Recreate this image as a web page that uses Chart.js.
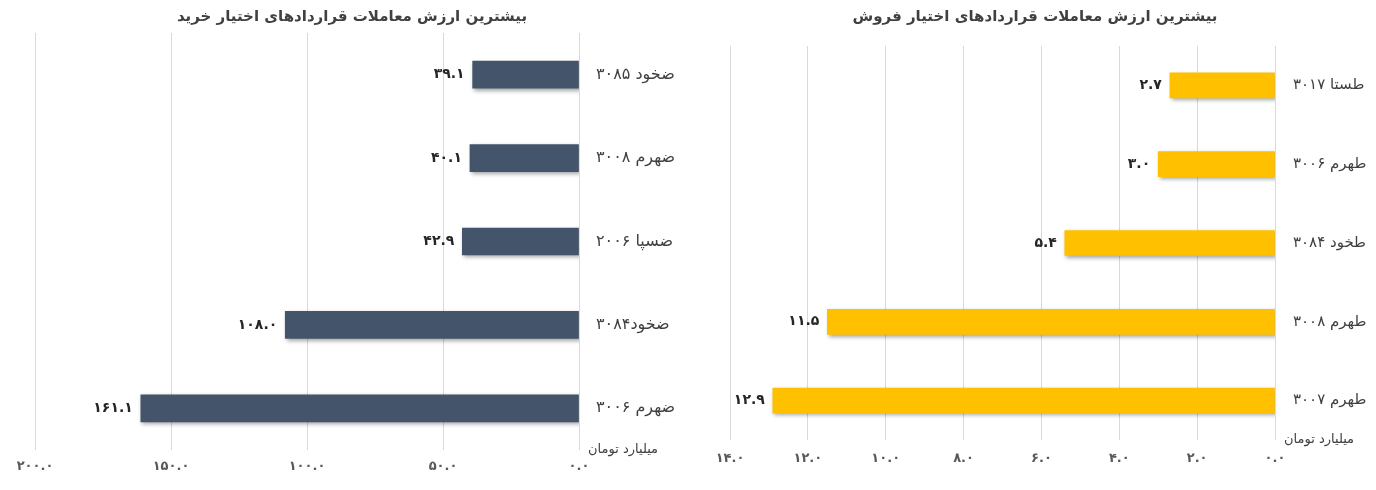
<!DOCTYPE html>
<html>
<head>
<meta charset="utf-8">
<script src="https://cdn.jsdelivr.net/npm/chart.js@4"></script>
<style>
    body { margin: 0; background: #fff; }
    .box { position: absolute; top: 0; height: 490px; }
    #left { left: 0; width: 690px; }
    #right { left: 700px; width: 676px; }
</style>
</head>
<body>
<div class="box" id="left"><canvas id="callChart"></canvas></div>
<div class="box" id="right"><canvas id="putChart"></canvas></div>
<script>
// data
const callTitle = "بیشترین ارزش معاملات قراردادهای اختیار خرید"
const callLabels = ["ضخود ۳۰۸۵", "ضهرم ۳۰۰۸", "ضسپا ۲۰۰۶", "ضخود۳۰۸۴", "ضهرم ۳۰۰۶"]
const callValues = [39.1, 40.1, 42.9, 108.0, 161.1]

const putTitle = "بیشترین ارزش معاملات قراردادهای اختیار فروش"
const putLabels = ["طستا ۳۰۱۷", "طهرم ۳۰۰۶", "طخود ۳۰۸۴", "طهرم ۳۰۰۸", "طهرم ۳۰۰۷"]
const putValues = [2.7, 3.0, 5.4, 11.5, 12.9]

const unitLabel = "میلیارد تومان"

const FONT = "'DejaVu Sans', sans-serif"
const faDigits = "۰۱۲۳۴۵۶۷۸۹"
const toFa = (s) => String(s).replace(/[0-9]/g, (d) => faDigits[d])

const barShadow = {
    id: "barShadow",
    beforeDatasetsDraw(chart) {
        const ctx = chart.ctx
        ctx.save()
        ctx.shadowColor = "rgba(0, 0, 0, 0.35)"
        ctx.shadowBlur = 4
        ctx.shadowOffsetX = 2
        ctx.shadowOffsetY = 2
    },
    afterDatasetsDraw(chart) {
        chart.ctx.restore()
    },
}

// title, value at the end of each bar, unit text under the y labels
const extraText = {
    id: "extraText",
    afterDraw(chart, args, opts) {
        const ctx = chart.ctx
        const values = chart.data.datasets[0].data
        ctx.save()
        ctx.textBaseline = "middle"

        ctx.font = "bold 15px " + FONT
        ctx.fillStyle = "#404040"
        ctx.textAlign = "center"
        ctx.fillText(opts.title, opts.titleX, 17)

        ctx.font = "bold 14px " + FONT
        ctx.fillStyle = "#262626"
        ctx.textAlign = "right"
        chart.getDatasetMeta(0).data.forEach((bar, i) => {
            ctx.fillText(toFa(values[i].toFixed(1)), bar.x - 8, bar.y)
        })

        ctx.font = "13px " + FONT
        ctx.fillStyle = "#404040"
        ctx.textAlign = "left"
        ctx.fillText(unitLabel, chart.chartArea.right + 9, chart.chartArea.bottom)
        ctx.restore()
    },
}

const makeChart = (id, title, labels, values, color, max, step, geo) => {
    return new Chart(document.getElementById(id), {
        type: "bar",
        data: {
            labels,
            datasets: [
                {
                    data: values,
                    backgroundColor: color,
                    barThickness: geo.bar,
                },
            ],
        },
        plugins: [barShadow, extraText],
        options: {
            indexAxis: "y",
            responsive: true,
            maintainAspectRatio: false,
            animation: false,
            layout: { padding: { left: geo.left, right: 0, top: geo.top, bottom: 0 } },
            plugins: {
                legend: { display: false },
                tooltip: { enabled: false },
                title: { display: false },
                extraText: { title, titleX: geo.titleX },
            },
            scales: {
                x: {
                    reverse: true,
                    min: 0,
                    max,
                    ticks: {
                        stepSize: step,
                        padding: geo.tickPad,
                        maxRotation: 0,
                        color: "#595959",
                        font: { family: FONT, size: 13, weight: "bold" },
                        callback: (v) => toFa(Number(v).toFixed(1)),
                    },
                    grid: { color: "#d9d9d9", drawTicks: false },
                    border: { display: false },
                    afterFit: (s) => { s.height = geo.xHeight },
                },
                y: {
                    position: "right",
                    ticks: {
                        padding: geo.labelPad,
                        color: "#404040",
                        font: { family: FONT, size: geo.labelSize },
                    },
                    grid: { display: false, drawTicks: false },
                    border: { display: false },
                    afterFit: (s) => { s.width = geo.yWidth },
                },
            },
        },
    })
}

makeChart("callChart", callTitle, callLabels, callValues, "#44546a", 200, 50,
    { left: 35, top: 33, yWidth: 111, titleX: 352, xHeight: 40, tickPad: 9, bar: 27, labelSize: 16, labelPad: 17 })
makeChart("putChart", putTitle, putLabels, putValues, "#ffc000", 14, 2,
    { left: 30, top: 46, yWidth: 101, titleX: 335, xHeight: 50, tickPad: 11, bar: 25, labelSize: 15, labelPad: 18 })
</script>
</body>
</html>
